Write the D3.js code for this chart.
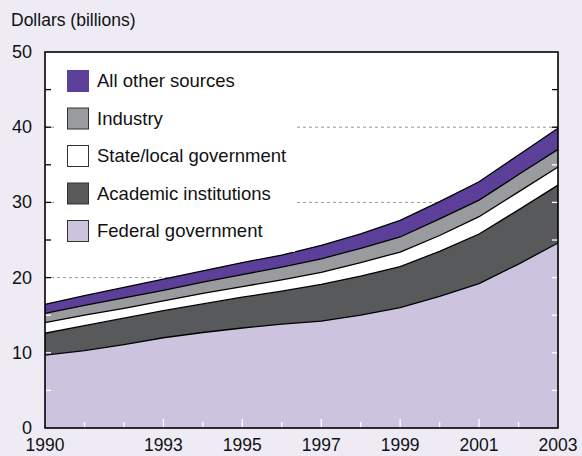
<!DOCTYPE html>
<html>
<head>
<meta charset="utf-8">
<script src="https://cdn.jsdelivr.net/npm/d3@7"></script>
<style>
  body { margin: 0; background: #eeebf5; }
  svg { display: block; font-family: "Liberation Sans", Arial, sans-serif; }
</style>
</head>
<body>
<svg id="chart"></svg>
<script>
// данные
const years = [1990, 1991, 1992, 1993, 1994, 1995, 1996, 1997, 1998, 1999, 2000, 2001, 2002, 2003];
const federal  = [9.7, 10.3, 11.1, 12.0, 12.7, 13.3, 13.8, 14.2, 15.0, 16.0, 17.5, 19.2, 21.8, 24.6];
const academic = [2.9, 3.3, 3.5, 3.6, 3.8, 4.1, 4.4, 4.9, 5.2, 5.45, 6.0, 6.6, 7.2, 7.7];
const stateLocal = [1.4, 1.4, 1.3, 1.3, 1.4, 1.4, 1.5, 1.6, 1.8, 1.95, 2.1, 2.3, 2.4, 2.4];
const industry = [1.25, 1.3, 1.4, 1.4, 1.5, 1.6, 1.7, 1.8, 1.9, 2.0, 2.2, 2.2, 2.3, 2.35];
const otherSources = [1.2, 1.3, 1.4, 1.5, 1.5, 1.6, 1.6, 1.8, 1.9, 2.2, 2.3, 2.45, 2.6, 2.8];

const seriesKeys = ["federal", "academic", "state", "industry", "other"];
const seriesNames = {
    federal: "Federal government",
    academic: "Academic institutions",
    state: "State/local government",
    industry: "Industry",
    other: "All other sources"
};
const seriesColors = {
    federal: "#ccc4df",
    academic: "#58595b",
    state: "#ffffff",
    industry: "#9a9b9e",
    other: "#5b3f99"
};
const xTickLabels = [1990, 1993, 1995, 1997, 1999, 2001, 2003];
const yTickLabels = [0, 10, 20, 30, 40, 50];
const gridValues = [20, 30, 40];

const width = 582, height = 456;
const margin = {left: 45, right: 24, top: 52, bottom: 28};

const svg = d3.select("#chart").attr("width", width).attr("height", height);

const table = years.map((y, i) => ({
    year: y,
    federal: federal[i],
    academic: academic[i],
    state: stateLocal[i],
    industry: industry[i],
    other: otherSources[i]
}));

const stacked = d3.stack().keys(seriesKeys)(table);

const x = d3.scaleLinear().domain([1990, 2003]).range([margin.left, width - margin.right]);
const y = d3.scaleLinear().domain([0, 50]).range([height - margin.bottom, margin.top]);

// фон области графика
svg.append("rect")
    .attr("x", x(1990)).attr("y", y(50))
    .attr("width", x(2003) - x(1990)).attr("height", y(0) - y(50))
    .attr("fill", "#fff");

// пунктирная сетка
svg.append("g").selectAll("line").data(gridValues).join("line")
    .attr("x1", x(1990)).attr("x2", x(2003))
    .attr("y1", d => y(d)).attr("y2", d => y(d))
    .attr("stroke", "#999").attr("stroke-width", 1)
    .attr("stroke-dasharray", "3,3");

// слои
const area = d3.area()
    .x(d => x(d.data.year))
    .y0(d => y(d[0]))
    .y1(d => y(d[1]));
const topLine = d3.line()
    .x(d => x(d.data.year))
    .y(d => y(d[1]));

svg.append("g").selectAll("path").data(stacked).join("path")
    .attr("d", area)
    .attr("fill", d => seriesColors[d.key]);

svg.append("g").selectAll("path").data(stacked).join("path")
    .attr("d", topLine)
    .attr("fill", "none")
    .attr("stroke", "#000")
    .attr("stroke-width", 1.3);

// легенда
const legend = svg.append("g");
legend.append("rect")
    .attr("x", 57).attr("y", 60).attr("width", 238).attr("height", 192)
    .attr("fill", "#fff");
const legendOrder = seriesKeys.slice().reverse();
const item = legend.selectAll("g.item").data(legendOrder).join("g")
    .attr("class", "item")
    .attr("transform", (d, i) => `translate(67, ${70 + i * 37.5})`);
item.append("rect")
    .attr("x", 0.5).attr("y", 0.5).attr("width", 21).attr("height", 21)
    .attr("fill", d => seriesColors[d])
    .attr("stroke", d => d === "other" ? seriesColors[d] : "#333")
    .attr("stroke-width", 1);
item.append("text")
    .attr("x", 30).attr("y", 17)
    .attr("font-size", 18.5)
    .attr("fill", "#111")
    .text(d => seriesNames[d]);

// внутренние засечки
const stackTop = years.map((yr, i) => federal[i] + academic[i] + stateLocal[i] + industry[i] + otherSources[i]);
const minorY = d3.range(5, 50, 5);
const ticks = svg.append("g");
ticks.selectAll("line.left").data(minorY).join("line")
    .attr("class", "left")
    .attr("x1", x(1990)).attr("x2", x(1990) + 6)
    .attr("y1", d => y(d)).attr("y2", d => y(d))
    .attr("stroke", d => d < stackTop[0] ? "#fff" : "#000")
    .attr("stroke-width", 1.3);
ticks.selectAll("line.right").data(minorY).join("line")
    .attr("class", "right")
    .attr("x1", x(2003)).attr("x2", x(2003) - 6)
    .attr("y1", d => y(d)).attr("y2", d => y(d))
    .attr("stroke", d => d < stackTop[stackTop.length - 1] ? "#fff" : "#000")
    .attr("stroke-width", 1.3);
ticks.selectAll("line.bottom").data(years.slice(1, -1)).join("line")
    .attr("class", "bottom")
    .attr("x1", d => x(d)).attr("x2", d => x(d))
    .attr("y1", y(0)).attr("y2", d => y(0) - (xTickLabels.includes(d) ? 9 : 6))
    .attr("stroke", "#fff")
    .attr("stroke-width", 1.3);

// рамка
svg.append("rect")
    .attr("x", x(1990)).attr("y", y(50))
    .attr("width", x(2003) - x(1990)).attr("height", y(0) - y(50))
    .attr("fill", "none").attr("stroke", "#000").attr("stroke-width", 1.6);

// подписи осей
svg.append("g").selectAll("text").data(yTickLabels).join("text")
    .attr("x", 32).attr("y", d => y(d) + 6)
    .attr("text-anchor", "end")
    .attr("font-size", 18)
    .attr("fill", "#111")
    .text(d => d);

svg.append("g").selectAll("text").data(xTickLabels).join("text")
    .attr("x", d => x(d)).attr("y", 451)
    .attr("text-anchor", "middle")
    .attr("font-size", 17.5)
    .attr("fill", "#111")
    .text(d => d);

svg.append("text")
    .attr("x", 11).attr("y", 26)
    .attr("font-size", 17.5)
    .attr("fill", "#111")
    .text("Dollars (billions)");
</script>
</body>
</html>
